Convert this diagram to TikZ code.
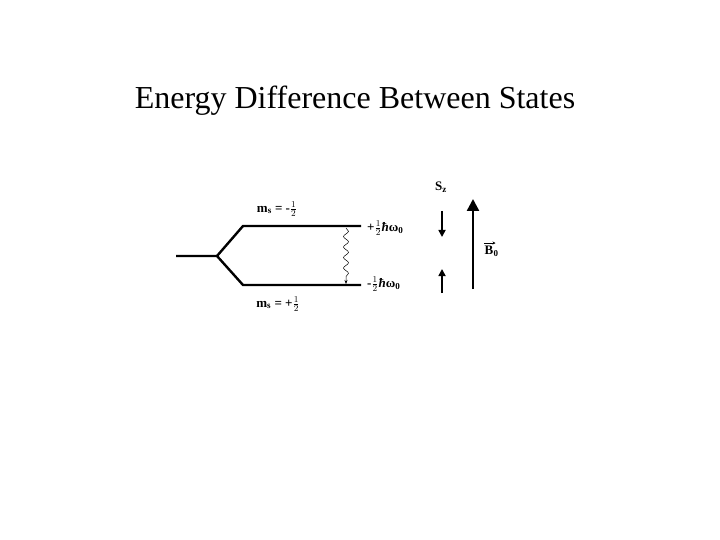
\documentclass[tikz,border=0pt]{standalone}
\usepackage{fontspec}
\setmainfont{Liberation Serif}
\usetikzlibrary{decorations.pathmorphing,arrows.meta}
\begin{document}
\begin{tikzpicture}[x=1pt,y=-1pt,
  level/.style={line width=2.4pt},
  lbl/.style={font=\bfseries\fontsize{13}{14}\selectfont, inner sep=0pt},
  spin/.style={line width=1.6pt,-{Triangle[length=7pt,width=7pt]}}]
\useasboundingbox (0,0) rectangle (720,540);
\node[font=\fontsize{32}{36}\selectfont] (title) at (355,101) {Energy Difference Between States};
\coordinate (in) at (176,256);
\coordinate (split) at (217,256);
\coordinate (ua) at (243,226);
\coordinate (ub) at (361,226);
\coordinate (la) at (243,285);
\coordinate (lb) at (361,285);
\draw[level] (in) -- (split) -- (ua) -- (ub);
\draw[level] (split) -- (la) -- (lb);
\coordinate (w1) at (346,228);
\coordinate (w2) at (346,284);
\draw[line width=0.5pt, decorate, decoration={snake,segment length=10.5pt,amplitude=2.5pt,post length=3pt}, -{Stealth[length=4pt,width=3pt]}] (w1) -- (w2);
\node[lbl] (mu) at (277,209) {m\textsubscript{s} = -$\frac{1}{2}$};
\node[lbl] (ml) at (278,304) {m\textsubscript{s} = +$\frac{1}{2}$};
\node[lbl, anchor=west] (eu) at (367,228) {+$\frac{1}{2}$\textit{ħ}ω\textsubscript{0}};
\node[lbl, anchor=west] (el) at (367,284) {-$\frac{1}{2}$\textit{ħ}ω\textsubscript{0}};
\node[lbl] (sz) at (441,187) {S\textsubscript{z}};
\coordinate (d1) at (442,211);
\coordinate (d2) at (442,237);
\coordinate (u1) at (442,293);
\coordinate (u2) at (442,269);
\draw[spin] (d1) -- (d2);
\draw[spin] (u1) -- (u2);
\coordinate (b1) at (473,289);
\coordinate (b2) at (473,199);
\draw[line width=2.4pt,-{Triangle[length=12pt,width=12pt]}] (b1) -- (b2);
\node[lbl] (B) at (489,250) {B};
\node[lbl, anchor=base west, font=\bfseries\fontsize{9}{10}\selectfont] (B0) at ([yshift=-2pt]B.base east) {0};
\draw[line width=0.6pt,-{Stealth[length=3pt,width=3pt]}] ([yshift=2.5pt]B.north west) -- ([yshift=2.5pt,xshift=2pt]B.north east);
\end{tikzpicture}
\end{document}
